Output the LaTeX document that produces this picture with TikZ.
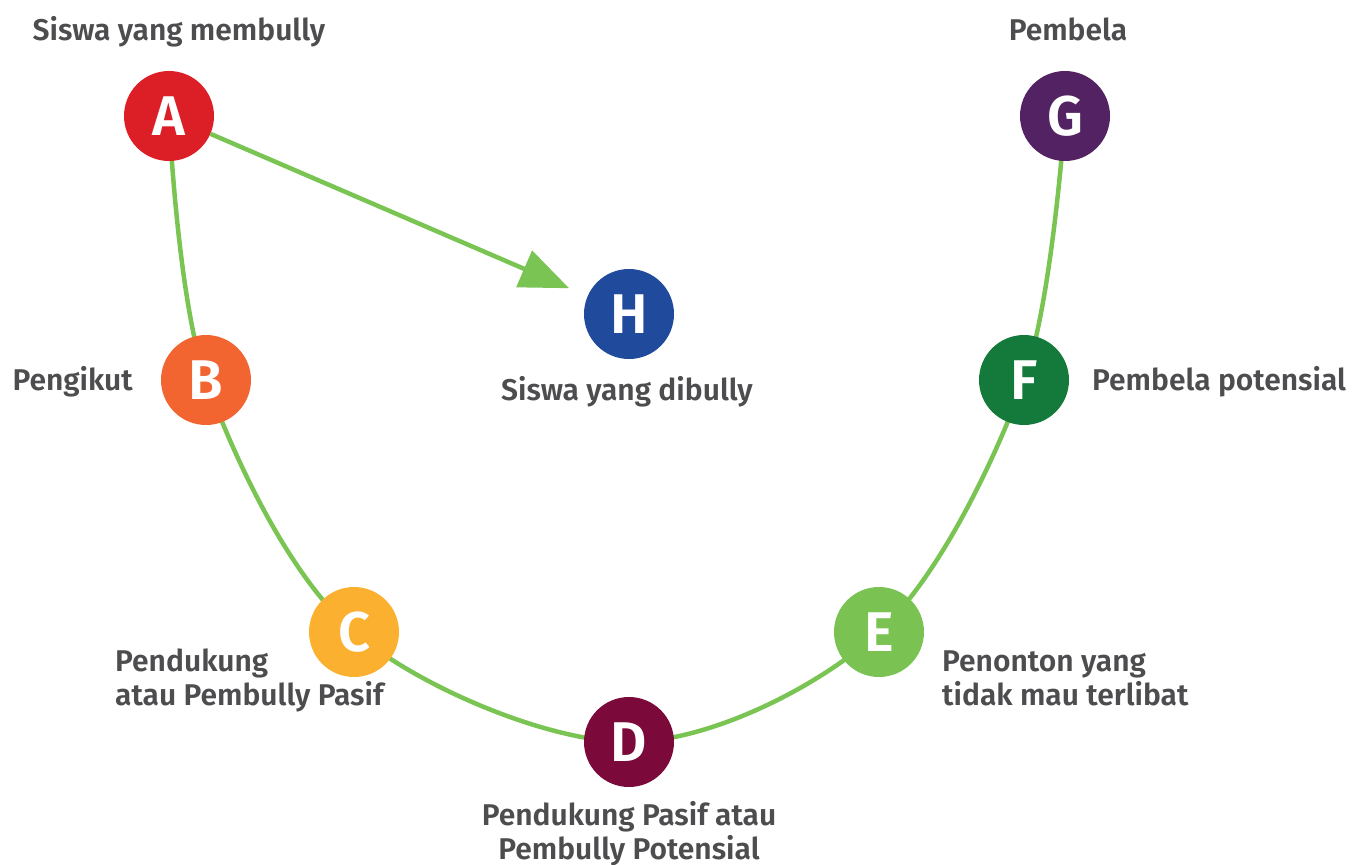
\documentclass[tikz,border=0pt]{standalone}
\usepackage{fontspec}
\setmainfont{Fira Sans}[BoldFont={Fira Sans SemiBold}]
\usetikzlibrary{arrows.meta,backgrounds}
\definecolor{cA}{HTML}{DC1F26}
\definecolor{cB}{HTML}{F26430}
\definecolor{cC}{HTML}{FBB030}
\definecolor{cD}{HTML}{7B0A3B}
\definecolor{cE}{HTML}{7AC252}
\definecolor{cF}{HTML}{137A3C}
\definecolor{cG}{HTML}{532262}
\definecolor{cH}{HTML}{204A9C}
\definecolor{lineg}{HTML}{7AC454}
\definecolor{txt}{HTML}{4D4D4F}
\tikzset{
  role/.style={circle, minimum size=90pt, inner sep=0pt, fill=#1, text=white,
    font=\fontsize{56}{60}\selectfont\bfseries},
  lbl/.style={text=txt, inner sep=0pt, font=\fontsize{30}{34}\selectfont\bfseries},
  link/.style={draw=lineg, line width=4.5pt},
}
\begin{document}
\begin{tikzpicture}[x=1pt,y=-1pt]
\useasboundingbox (0,0) rectangle (1356,864);
\node[role=cA] (A) at (169,116) {A};
\node[role=cB] (B) at (206,380) {B};
\node[role=cC] (C) at (354,632) {C};
\node[role=cD] (D) at (629,742) {D};
\node[role=cE] (E) at (879,632) {E};
\node[role=cF] (F) at (1024,380) {F};
\node[role=cG] (G) at (1065,116) {G};
\node[role=cH] (H) at (629,314) {H};
\begin{scope}[on background layer]
\draw[link] plot[smooth, tension=0.55] coordinates {(A.center) (B.center) (C.center) (D.center) (E.center) (F.center) (G.center)};
\end{scope}
\draw[link, -{Triangle[length=49pt,width=39pt]}, shorten >=20pt] (A) -- (H);
\node[lbl, anchor=base] (lA) at (179,41) {Siswa yang membully};
\node[lbl, anchor=base] (lG) at (1068,41) {Pembela};
\node[lbl, anchor=base east] (lB) at (133,390) {Pengikut};
\node[lbl, anchor=base] (lH) at (627,400) {Siswa yang dibully};
\node[lbl, anchor=base west] (lF) at (1092,390) {Pembela potensial};
\node[lbl, anchor=base west, align=left] (lC) at (115,705) {Pendukung\\atau Pembully Pasif};
\node[lbl, anchor=base west, align=left] (lE) at (942,705) {Penonton yang\\tidak mau terlibat};
\node[lbl, anchor=base, align=center] (lD) at (629,859) {Pendukung Pasif atau\\Pembully Potensial};
\end{tikzpicture}
\end{document}
